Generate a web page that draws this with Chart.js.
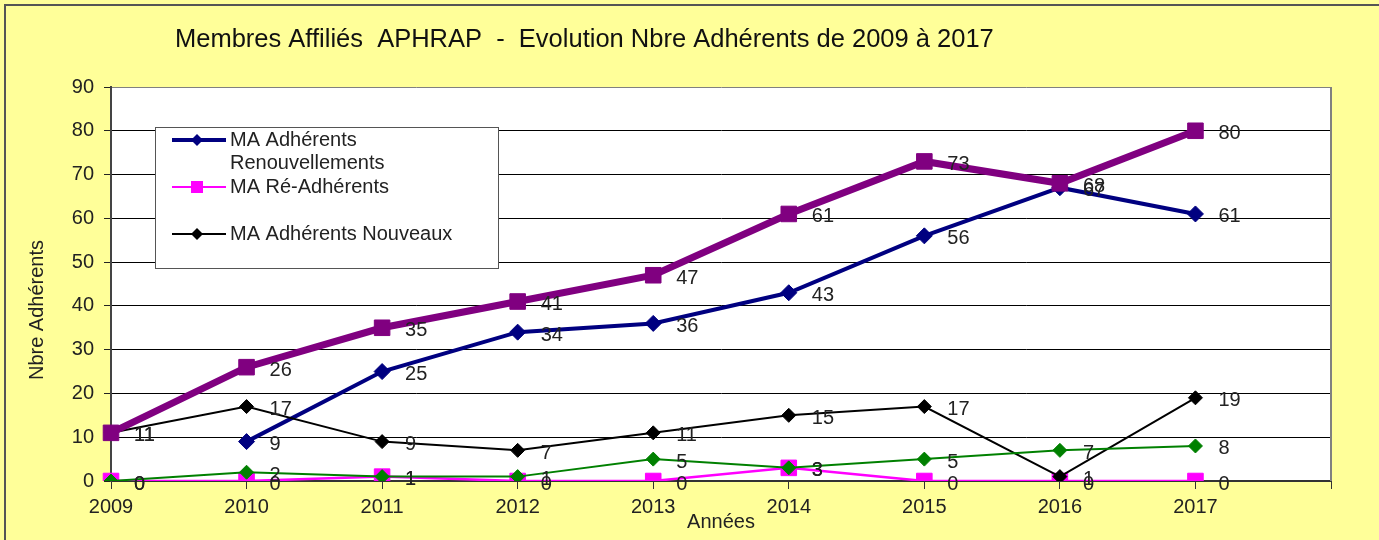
<!DOCTYPE html>
<html>
<head>
<meta charset="utf-8">
<script src="https://cdn.jsdelivr.net/npm/chart.js@4/dist/chart.umd.min.js"></script>
<style>
  html, body { margin: 0; padding: 0; background: #ffff99; }
  #myChart { display: block; }
</style>
</head>
<body>
<canvas id="myChart" width="1379" height="540"></canvas>
<script>
// categories (the last empty slot keeps a gap after 2017, as in the original)
const years = ["2009", "2010", "2011", "2012", "2013", "2014", "2015", "2016", "2017", ""];

// series
const renouvellements = [null, 9, 25, 34, 36, 43, 56, 67, 61];
const reAdherents = [0, 0, 1, 0, 0, 3, 0, 0, 0];
const nouveaux = [11, 17, 9, 7, 11, 15, 17, 1, 19];
const totalAdherents = [11, 26, 35, 41, 47, 61, 73, 68, 80];
const autres = [0, 2, 1, 1, 5, 3, 5, 7, 8];

// y axis ticks
const yMin = 0;
const yMax = 90;
const yStep = 10;

const titleText = "Membres Affiliés  APHRAP  -  Evolution Nbre Adhérents de 2009 à 2017";
const yTitle = "Nbre Adhérents";
const xTitle = "Années";

const FONT = "'Liberation Sans', Arial, sans-serif";
Chart.defaults.font.family = FONT;
Chart.defaults.color = "#222";

const legendItems = [
  { text: ["MA Adhérents", "Renouvellements"], color: "#000080", width: 4, style: "diamond" },
  { text: ["MA Ré-Adhérents"], color: "#ff00ff", width: 2, style: "square" },
  { text: ["MA Adhérents Nouveaux"], color: "#000000", width: 2, style: "diamond" },
];

const decorPlugin = {
  id: "decor",
  beforeDraw(chart) {
    const { ctx, chartArea } = chart;
    ctx.save();
    ctx.fillStyle = "#ffff99";
    ctx.fillRect(0, 0, chart.width, chart.height);
    ctx.fillStyle = "#ffffff";
    ctx.fillRect(chartArea.left, chartArea.top, chartArea.right - chartArea.left, chartArea.bottom - chartArea.top);
    // outer frame
    ctx.strokeStyle = "#555";
    ctx.lineWidth = 2;
    ctx.strokeRect(5, 5, chart.width + 10, chart.height + 10);
    ctx.restore();
  },
  afterDatasetsDraw(chart) {
    // value labels next to every point
    const { ctx } = chart;
    ctx.save();
    ctx.font = "20px " + FONT;
    ctx.fillStyle = "#222";
    ctx.textAlign = "left";
    ctx.textBaseline = "middle";
    chart.data.datasets.forEach((ds, i) => {
      const meta = chart.getDatasetMeta(i);
      meta.data.forEach((pt, j) => {
        const v = ds.data[j];
        if (v === null || v === undefined) return;
        ctx.fillText(String(v), pt.x + 23, pt.y + 3);
      });
    });
    ctx.restore();
  },
  afterDraw(chart) {
    const { ctx, chartArea } = chart;
    ctx.save();
    // right border of the plot
    ctx.strokeStyle = "#808080";
    ctx.lineWidth = 2;
    ctx.beginPath();
    ctx.moveTo(chartArea.right, chartArea.top);
    ctx.lineTo(chartArea.right, chartArea.bottom);
    ctx.stroke();

    // title
    ctx.fillStyle = "#111";
    ctx.font = "25.5px " + FONT;
    ctx.textAlign = "left";
    ctx.textBaseline = "middle";
    ctx.fillText(titleText, 175, 40);

    // y axis title
    ctx.font = "20px " + FONT;
    ctx.fillStyle = "#222";
    ctx.translate(37, 310);
    ctx.rotate(-Math.PI / 2);
    ctx.textAlign = "center";
    ctx.fillText(yTitle, 0, 0);
    ctx.setTransform(1, 0, 0, 1, 0, 0);

    // legend box
    const bx = 155, by = 127, bw = 343, bh = 141;
    ctx.fillStyle = "#fff";
    ctx.fillRect(bx, by, bw, bh);
    ctx.strokeStyle = "#555";
    ctx.lineWidth = 1;
    ctx.strokeRect(bx + 0.5, by + 0.5, bw, bh);

    const rows = [140, 187, 234];
    ctx.textAlign = "left";
    ctx.textBaseline = "middle";
    legendItems.forEach((item, i) => {
      const y = rows[i];
      ctx.strokeStyle = item.color;
      ctx.lineWidth = item.width;
      ctx.beginPath();
      ctx.moveTo(172, y);
      ctx.lineTo(226, y);
      ctx.stroke();
      ctx.fillStyle = item.color;
      ctx.beginPath();
      if (item.style === "diamond") {
        ctx.moveTo(197, y - 6);
        ctx.lineTo(203, y);
        ctx.lineTo(197, y + 6);
        ctx.lineTo(191, y);
      } else {
        ctx.rect(191, y - 6, 12, 12);
      }
      ctx.fill();
      ctx.fillStyle = "#222";
      ctx.font = "20px " + FONT;
      item.text.forEach((t, k) => ctx.fillText(t, 230, y + k * 23));
    });
    ctx.restore();
  },
};

const ctx = document.getElementById("myChart");

new Chart(ctx, {
  type: "line",
  data: {
    labels: years,
    datasets: [
      {
        data: autres,
        borderColor: "#008000",
        backgroundColor: "#008000",
        borderWidth: 2,
        pointStyle: "rectRot",
        pointRadius: 7,
        pointBorderWidth: 1,
      },
      {
        data: totalAdherents,
        borderColor: "#800080",
        backgroundColor: "#800080",
        borderWidth: 7,
        pointStyle: "rect",
        pointRadius: 11,
        pointBorderWidth: 1,
      },
      {
        data: nouveaux,
        borderColor: "#000000",
        backgroundColor: "#000000",
        borderWidth: 2,
        pointStyle: "rectRot",
        pointRadius: 7,
        pointBorderWidth: 1,
      },
      {
        data: reAdherents,
        borderColor: "#ff00ff",
        backgroundColor: "#ff00ff",
        borderWidth: 2.5,
        pointStyle: "rect",
        pointRadius: 11,
        pointBorderWidth: 1,
      },
      {
        data: renouvellements,
        borderColor: "#000080",
        backgroundColor: "#000080",
        borderWidth: 4,
        pointStyle: "rectRot",
        pointRadius: 8,
        pointBorderWidth: 1,
      },
    ],
  },
  options: {
    responsive: false,
    animation: false,
    layout: {
      padding: { top: 87, right: 48, left: 0, bottom: 0 },
    },
    plugins: {
      legend: { display: false },
      title: { display: false },
      tooltip: { enabled: false },
    },
    scales: {
      x: {
        offset: false,
        afterFit: (scale) => {
          scale.height = 59;
        },
        grid: {
          drawOnChartArea: false,
          drawTicks: true,
          tickLength: 8,
          color: "#333",
        },
        border: { color: "#333", width: 2 },
        ticks: {
          autoSkip: false,
          maxRotation: 0,
          padding: 6,
          font: { size: 20 },
          color: "#222",
        },
        title: {
          display: true,
          text: xTitle,
          font: { size: 20 },
          color: "#222",
          padding: { top: 0, bottom: 6 },
        },
      },
      y: {
        min: yMin,
        max: yMax,
        afterFit: (scale) => {
          scale.width = 111;
        },
        ticks: {
          stepSize: yStep,
          padding: 10,
          font: { size: 20 },
          color: "#222",
        },
        grid: {
          color: (c) => (c.tick && c.tick.value === yMax ? "#808080" : "#000"),
          lineWidth: 1,
          tickLength: 7,
          tickColor: "#222",
        },
        border: { color: "#444", width: 2 },
      },
    },
  },
  plugins: [decorPlugin],
});
</script>
</body>
</html>
